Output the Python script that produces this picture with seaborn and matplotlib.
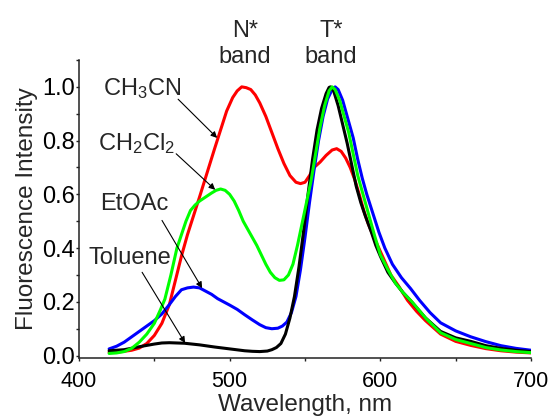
import matplotlib
matplotlib.use("Agg")
import matplotlib.pyplot as plt
import seaborn as sns
import pandas as pd
from matplotlib.ticker import MultipleLocator

# ---- data ----
red_wl = [420, 425, 430, 435, 440, 445, 450, 455, 460, 464, 468, 472, 476, 480, 485, 490,
          494, 498, 502, 505, 508, 511, 514, 517, 520, 524, 528, 532, 536, 540, 544, 547,
          550, 553, 556, 560, 564, 568, 571, 574, 577, 580, 583, 586, 589, 592, 595, 599,
          603, 607, 612, 618, 624, 630, 640, 650, 660, 670, 680, 690, 700]
red_int = [0.012, 0.013, 0.016, 0.02, 0.028, 0.045, 0.075, 0.12, 0.19, 0.28, 0.37, 0.45,
           0.52, 0.59, 0.68, 0.77, 0.84, 0.91, 0.96, 0.985, 1.0, 0.997, 0.99, 0.97, 0.94,
           0.89, 0.83, 0.77, 0.715, 0.67, 0.645, 0.64, 0.645, 0.67, 0.70, 0.72, 0.745,
           0.765, 0.77, 0.76, 0.735, 0.70, 0.655, 0.60, 0.54, 0.49, 0.45, 0.40, 0.35, 0.30,
           0.26, 0.206, 0.165, 0.13, 0.08, 0.053, 0.038, 0.026, 0.018, 0.013, 0.010]

green_wl = [420, 425, 430, 435, 440, 445, 450, 454, 457, 461, 465, 468, 471, 474, 477, 480,
            484, 488, 491, 494, 497, 500, 503, 506, 509, 512, 515, 518, 521, 524, 527, 530,
            533, 536, 539, 542, 545, 548, 551, 554, 557, 560, 563, 566, 568, 570, 573, 576,
            579, 582, 585, 588, 592, 596, 600, 605, 610, 615, 621, 630, 640, 650, 660, 670,
            680, 690, 700]
green_int = [0.008, 0.01, 0.015, 0.027, 0.05, 0.08, 0.12, 0.17, 0.21, 0.30, 0.40, 0.45, 0.50,
             0.54, 0.56, 0.575, 0.59, 0.605, 0.615, 0.62, 0.615, 0.60, 0.575, 0.54, 0.50,
             0.47, 0.44, 0.41, 0.375, 0.34, 0.31, 0.29, 0.28, 0.282, 0.30, 0.34, 0.41, 0.49,
             0.57, 0.65, 0.75, 0.85, 0.93, 0.985, 1.0, 0.99, 0.95, 0.89, 0.83, 0.75, 0.67,
             0.61, 0.53, 0.45, 0.375, 0.32, 0.27, 0.235, 0.20, 0.14, 0.085, 0.06, 0.045,
             0.03, 0.021, 0.015, 0.011]

black_wl = [420, 430, 440, 450, 455, 460, 465, 470, 475, 480, 490, 500, 510, 515, 520, 525,
            528, 531, 534, 537, 540, 543, 546, 549, 552, 555, 558, 561, 564, 566, 567, 569,
            572, 575, 578, 581, 584, 587, 590, 594, 597, 600, 605, 610, 615, 620, 630, 640,
            650, 660, 670, 680, 690, 700]
black_int = [0.018, 0.022, 0.033, 0.043, 0.047, 0.048, 0.047, 0.046, 0.043, 0.040, 0.032,
             0.025, 0.018, 0.016, 0.015, 0.017, 0.022, 0.03, 0.045, 0.08, 0.14, 0.22, 0.33,
             0.46, 0.60, 0.73, 0.84, 0.92, 0.975, 0.998, 1.0, 0.985, 0.93, 0.86, 0.79, 0.71,
             0.63, 0.57, 0.52, 0.46, 0.41, 0.37, 0.31, 0.27, 0.235, 0.205, 0.14, 0.09, 0.066,
             0.053, 0.037, 0.027, 0.02, 0.015]

blue_wl = [420, 425, 430, 435, 440, 445, 450, 455, 460, 464, 468, 472, 476, 480, 484, 488,
           492, 496, 500, 505, 510, 515, 520, 524, 528, 532, 535, 538, 541, 544, 547, 550,
           553, 556, 559, 562, 565, 568, 570, 572, 575, 578, 582, 585, 588, 591, 595, 599,
           603, 608, 614, 620, 626, 633, 640, 650, 660, 670, 680, 690, 700]
blue_int = [0.025, 0.035, 0.05, 0.07, 0.09, 0.11, 0.13, 0.155, 0.19, 0.22, 0.245, 0.252,
            0.255, 0.252, 0.24, 0.228, 0.212, 0.20, 0.188, 0.172, 0.152, 0.133, 0.115, 0.104,
            0.10, 0.102, 0.11, 0.125, 0.16, 0.22, 0.32, 0.44, 0.57, 0.69, 0.80, 0.89, 0.955,
            0.99, 1.0, 0.99, 0.95, 0.89, 0.81, 0.73, 0.66, 0.60, 0.53, 0.46, 0.40, 0.34, 0.29,
            0.25, 0.206, 0.16, 0.122, 0.092, 0.07, 0.052, 0.037, 0.027, 0.02]

x_ticks = [400, 500, 600, 700]
y_ticks = [0.0, 0.2, 0.4, 0.6, 0.8, 1.0]

# ---- style ----
sns.set_style("ticks")
plt.rcParams["font.family"] = ["Liberation Sans", "DejaVu Sans"]
plt.rcParams["mathtext.default"] = "regular"

fig = plt.figure(figsize=(5.5, 4.16), dpi=100)
ax = fig.add_axes([0.1436, 0.140, 0.9655 - 0.1436, 0.8558 - 0.140])

series = [
    (red_wl, red_int, "#ff0000"),
    (blue_wl, blue_int, "#0000ff"),
    (black_wl, black_int, "#000000"),
    (green_wl, green_int, "#00ff00"),
]
for wl, it, col in series:
    df = pd.DataFrame({"wl": wl, "I": it})
    sns.lineplot(data=df, x="wl", y="I", color=col, lw=2.2, ax=ax, legend=False)

ax.set_xlim(400, 700)
ax.set_ylim(-0.008, 1.1)
ax.set_xticks(x_ticks)
ax.set_yticks(y_ticks)
ax.set_yticklabels([f"{v:.1f}" for v in y_ticks])
ax.xaxis.set_minor_locator(MultipleLocator(50))
ax.yaxis.set_minor_locator(MultipleLocator(0.1))
ax.tick_params(which="both", direction="out", length=2.5, width=1.0, colors="#222222",
               labelcolor="black")
ax.tick_params(axis="x", which="major", labelsize=15.5, pad=7)
ax.tick_params(axis="y", which="major", labelsize=17, pad=0.5)
for s in ["top", "right"]:
    ax.spines[s].set_visible(False)
for s in ["left", "bottom"]:
    ax.spines[s].set_linewidth(1.1)
    ax.spines[s].set_color("#222222")

ax.set_xlabel("Wavelength, nm", fontsize=17.5, labelpad=1.5)
ax.set_ylabel("Fluorescence Intensity", fontsize=17.5, labelpad=3)

# band labels
ax.text(510, 1.16, "N*\nband", ha="center", va="center", fontsize=17, clip_on=False)
ax.text(567.4, 1.16, "T*\nband", ha="center", va="center", fontsize=17, clip_on=False)

# annotations
arrow = dict(arrowstyle="-|>", lw=0.8, color="black", mutation_scale=9, shrinkA=0, shrinkB=0)
ax.text(415.9, 0.969, "CH$_3$CN", fontsize=17, ha="left", va="baseline")
ax.annotate("", xy=(491.7, 0.810), xytext=(465.8, 0.954), arrowprops=arrow)
ax.text(412.6, 0.766, "CH$_2$Cl$_2$", fontsize=17, ha="left", va="baseline")
ax.annotate("", xy=(490.4, 0.617), xytext=(464.5, 0.751), arrowprops=arrow)
ax.text(414.0, 0.543, "EtOAc", fontsize=17, ha="left", va="baseline")
ax.annotate("", xy=(481.7, 0.251), xytext=(455.1, 0.503), arrowprops=arrow)
ax.text(406.0, 0.340, "Toluene", fontsize=17, ha="left", va="baseline")
ax.annotate("", xy=(470.4, 0.047), xytext=(441.9, 0.310), arrowprops=arrow)

fig.savefig("out.png", dpi=100)
